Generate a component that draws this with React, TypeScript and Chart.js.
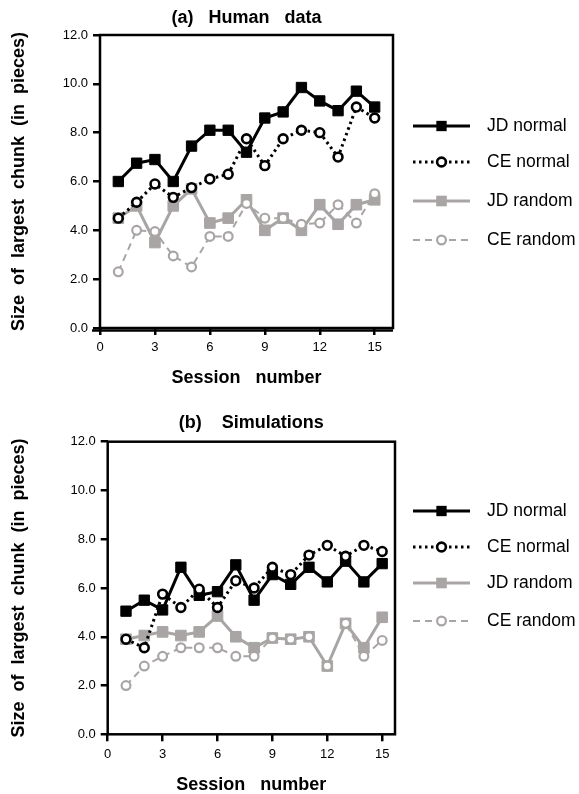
import React, { useEffect, useRef } from "react";
import { Chart, registerables } from "chart.js";

Chart.register(...registerables);

// ---------- data ----------
const sessions = [1, 2, 3, 4, 5, 6, 7, 8, 9, 10, 11, 12, 13, 14, 15];
const xTickValues = [0, 3, 6, 9, 12, 15];
const yTickValues = [0, 2, 4, 6, 8, 10, 12];
const seriesLabels = ["JD normal", "CE normal", "JD random", "CE random"];

const panelTitles = ["(a)   Human   data", "(b)    Simulations"];
const xAxisTitle = "Session   number";
const yAxisTitle = "Size  of  largest  chunk  (in  pieces)";

// (a) Human data
const humanJDNormal = [6.0, 6.75, 6.9, 6.0, 7.45, 8.1, 8.1, 7.2, 8.6, 8.85, 9.85, 9.3, 8.9, 9.7, 9.05];
const humanCENormal = [4.5, 5.15, 5.9, 5.35, 5.75, 6.1, 6.3, 7.75, 6.65, 7.75, 8.1, 8.0, 7.0, 9.05, 8.6];
const humanJDRandom = [4.5, 5.0, 3.5, 5.0, 5.7, 4.3, 4.5, 5.25, 4.0, 4.5, 4.0, 5.05, 4.25, 5.05, 5.25];
const humanCERandom = [2.3, 4.0, 3.95, 2.95, 2.5, 3.75, 3.75, 5.1, 4.5, 4.5, 4.25, 4.3, 5.05, 4.3, 5.5];

// (b) Simulations
const simJDNormal = [5.05, 5.5, 5.1, 6.85, 5.7, 5.85, 6.95, 5.5, 6.55, 6.15, 6.85, 6.25, 7.1, 6.25, 7.0];
const simCENormal = [3.9, 3.55, 5.75, 5.2, 5.95, 5.2, 6.3, 6.0, 6.85, 6.55, 7.35, 7.75, 7.3, 7.75, 7.5];
const simJDRandom = [3.9, 4.05, 4.2, 4.05, 4.2, 4.85, 4.0, 3.55, 3.95, 3.9, 4.0, 2.8, 4.55, 3.55, 4.8];
const simCERandom = [2.0, 2.8, 3.2, 3.55, 3.55, 3.55, 3.2, 3.2, 3.95, 3.9, 4.0, 2.8, 4.55, 3.2, 3.85];

// ---------- styling ----------
const FONT = '"Liberation Sans", Arial, Helvetica, sans-serif';
const GRAY = "#a9a5a5";
const W = 579;
const H = 397;

function pts(vals: number[]) {
  return sessions.map((s, i) => ({ x: s, y: vals[i] }));
}

function makeDatasets(jdN: number[], ceN: number[], jdR: number[], ceR: number[]) {
  return [
    {
      label: seriesLabels[0],
      data: pts(jdN),
      borderColor: "#000",
      backgroundColor: "#000",
      borderWidth: 3,
      pointStyle: "rect",
      pointRadius: 7.3,
      pointBackgroundColor: "#000",
      pointBorderColor: "#000",
      pointBorderWidth: 1,
      order: 1,
    },
    {
      label: seriesLabels[1],
      data: pts(ceN),
      borderColor: "#000",
      backgroundColor: "#fff",
      borderWidth: 3,
      borderDash: [2.5, 3.5],
      pointStyle: "circle",
      pointRadius: 4.4,
      pointBackgroundColor: "#fff",
      pointBorderColor: "#000",
      pointBorderWidth: 2.6,
      order: 0,
    },
    {
      label: seriesLabels[2],
      data: pts(jdR),
      borderColor: GRAY,
      backgroundColor: GRAY,
      borderWidth: 3,
      pointStyle: "rect",
      pointRadius: 7.5,
      pointBackgroundColor: GRAY,
      pointBorderColor: GRAY,
      pointBorderWidth: 1,
      order: 3,
    },
    {
      label: seriesLabels[3],
      data: pts(ceR),
      borderColor: GRAY,
      backgroundColor: "#fff",
      borderWidth: 2,
      borderDash: [7, 5],
      pointStyle: "circle",
      pointRadius: 4.4,
      pointBackgroundColor: "#fff",
      pointBorderColor: GRAY,
      pointBorderWidth: 2.2,
      order: 2,
    },
  ];
}

// custom legend drawn at the right side (line sample + marker + label)
const sideLegend = {
  id: "sideLegend",
  afterDraw(chart: any, _args: any, opts: any) {
    const ctx = chart.ctx;
    ctx.save();
    chart.data.datasets.forEach((ds: any, i: number) => {
      const y = opts.ys[i];
      ctx.setLineDash(ds.borderDash || []);
      ctx.lineWidth = ds.borderWidth;
      ctx.strokeStyle = ds.borderColor;
      ctx.lineCap = "butt";
      ctx.beginPath();
      ctx.moveTo(opts.x0, y);
      ctx.lineTo(opts.x1, y);
      ctx.stroke();
      ctx.setLineDash([]);
      const cx = (opts.x0 + opts.x1) / 2;
      ctx.fillStyle = ds.pointBackgroundColor;
      ctx.strokeStyle = ds.pointBorderColor;
      ctx.lineWidth = ds.pointBorderWidth;
      if (ds.pointStyle === "rect") {
        const h = ds.pointRadius * Math.SQRT1_2;
        ctx.fillRect(cx - h, y - h, 2 * h, 2 * h);
      } else {
        ctx.beginPath();
        ctx.arc(cx, y, ds.pointRadius, 0, Math.PI * 2);
        ctx.fill();
        ctx.stroke();
      }
      ctx.fillStyle = "#000";
      ctx.font = opts.font;
      ctx.textBaseline = "middle";
      ctx.textAlign = "left";
      ctx.fillText(ds.label, opts.textX, y);
    });
    ctx.restore();
  },
};

// box frame around plot area
const frame = {
  id: "frame",
  beforeDatasetsDraw(chart: any, _args: any, opts: any) {
    const { left, top, right, bottom } = chart.chartArea;
    const ctx = chart.ctx;
    ctx.save();
    ctx.strokeStyle = "#000";
    ctx.lineWidth = 2.5;
    ctx.strokeRect(left, top, right - left, bottom - top);
    if (opts.doubleBottom) {
      ctx.beginPath();
      ctx.moveTo(left - 8, bottom + 2.5);
      ctx.lineTo(right, bottom + 2.5);
      ctx.stroke();
    }
    ctx.restore();
  },
};

type PanelSpec = {
  title: string;
  titlePad: { top: number; bottom: number };
  datasets: any[];
  xMax: number;
  yAxisWidth: number;
  xAxisHeight: number;
  rightPad: number;
  xTitlePadBottom: number;
  legendYs: number[];
  doubleBottom: boolean;
};

function makeConfig(p: PanelSpec): any {
  return {
    type: "line",
    data: { datasets: p.datasets },
    plugins: [frame, sideLegend],
    options: {
      animation: false,
      responsive: false,
      devicePixelRatio: 1,
      layout: { padding: { left: 0, right: p.rightPad, top: 0, bottom: 0 } },
      font: { family: FONT },
      plugins: {
        legend: { display: false },
        tooltip: { enabled: false },
        title: {
          display: true,
          text: p.title,
          color: "#000",
          fullSize: false,
          font: { family: FONT, size: 18, weight: "bold" },
          padding: p.titlePad,
        },
        sideLegend: {
          x0: 413,
          x1: 470,
          textX: 487,
          ys: p.legendYs,
          font: `17.5px ${FONT}`,
        },
        frame: { doubleBottom: p.doubleBottom },
      },
      scales: {
        x: {
          type: "linear",
          min: 0,
          max: p.xMax,
          afterBuildTicks: (s: any) => {
            s.ticks = xTickValues.map((v) => ({ value: v }));
          },
          afterFit: (s: any) => {
            s.height = p.xAxisHeight;
          },
          border: { display: false },
          grid: {
            display: true,
            drawOnChartArea: false,
            drawTicks: true,
            tickLength: 7,
            tickWidth: 2.5,
            tickColor: "#000",
            color: "#000",
            lineWidth: 2.5,
          },
          ticks: {
            color: "#000",
            padding: 5,
            maxRotation: 0,
            font: { family: FONT, size: 13 },
            callback: (v: any) => String(v),
          },
          title: {
            display: true,
            text: xAxisTitle,
            color: "#000",
            font: { family: FONT, size: 18, weight: "bold" },
            padding: { top: 0, bottom: p.xTitlePadBottom },
          },
        },
        y: {
          type: "linear",
          min: 0,
          max: 12,
          afterBuildTicks: (s: any) => {
            s.ticks = yTickValues.map((v) => ({ value: v }));
          },
          afterFit: (s: any) => {
            s.width = p.yAxisWidth;
          },
          border: { display: false },
          grid: {
            display: true,
            drawOnChartArea: false,
            drawTicks: true,
            tickLength: 7,
            tickWidth: 2.5,
            tickColor: "#000",
            color: "#000",
            lineWidth: 2.5,
          },
          ticks: {
            color: "#000",
            padding: 5,
            font: { family: FONT, size: 13 },
            callback: (v: any) => Number(v).toFixed(1),
          },
          title: {
            display: true,
            text: yAxisTitle,
            color: "#000",
            font: { family: FONT, size: 18, weight: "bold" },
            padding: { top: 8.2, bottom: 0 },
          },
        },
      },
    },
  };
}

const panels: PanelSpec[] = [
  {
    title: panelTitles[0],
    titlePad: { top: 7, bottom: 6.4 },
    datasets: makeDatasets(humanJDNormal, humanCENormal, humanJDRandom, humanCERandom),
    xMax: 16,
    yAxisWidth: 100,
    xAxisHeight: 69,
    rightPad: 186,
    xTitlePadBottom: 8.2,
    legendYs: [126, 162, 201, 240],
    doubleBottom: true,
  },
  {
    title: panelTitles[1],
    titlePad: { top: 15.2, bottom: 7.9 },
    datasets: makeDatasets(simJDNormal, simCENormal, simJDRandom, simCERandom),
    xMax: 15.7,
    yAxisWidth: 107.7,
    xAxisHeight: 59.7,
    rightPad: 184,
    xTitlePadBottom: -2,
    legendYs: [114, 150, 186, 224],
    doubleBottom: false,
  },
];

function Panel({ spec }: { spec: PanelSpec }) {
  const ref = useRef<HTMLCanvasElement | null>(null);
  useEffect(() => {
    if (!ref.current) return;
    const chart = new Chart(ref.current, makeConfig(spec));
    return () => chart.destroy();
  }, [spec]);
  return (
    <canvas
      ref={ref}
      width={W}
      height={H}
      style={{ display: "block", width: W, height: H }}
    />
  );
}

export default function App() {
  return (
    <div
      style={{
        position: "absolute",
        left: 0,
        top: 0,
        width: W,
        height: 2 * H,
        background: "#fff",
      }}
    >
      {panels.map((p, i) => (
        <Panel key={i} spec={p} />
      ))}
    </div>
  );
}
